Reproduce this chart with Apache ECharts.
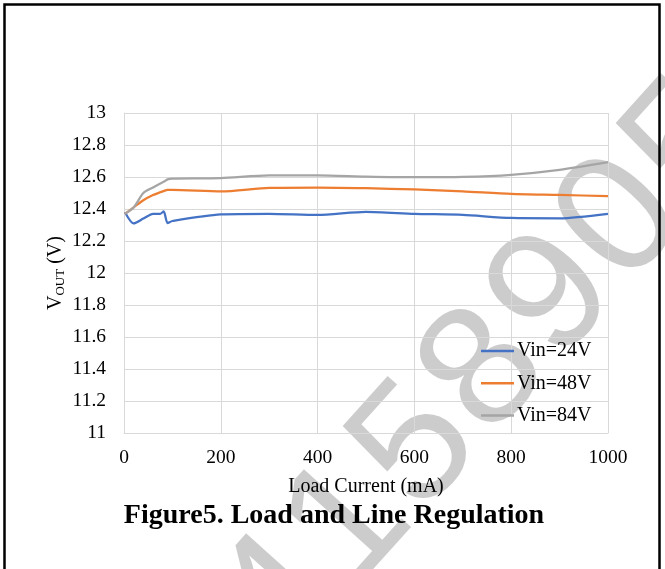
<!DOCTYPE html>
<html>
<head>
<meta charset="utf-8">
<script src="https://cdn.jsdelivr.net/npm/echarts@6/dist/echarts.min.js"></script>
<style>
  html, body { margin: 0; padding: 0; background: #fff; }
  #main { width: 665px; height: 569px; }
</style>
</head>
<body>
<div id="main"></div>
<script>
// load current (mA) and output voltage (V)
var loadCurrent = [2, 20, 40, 60, 75, 82, 90, 100, 200, 300, 400, 500, 600, 700, 800, 900, 1000];
var vin24 = [12.38, 12.31, 12.34, 12.37, 12.37, 12.385, 12.312, 12.325, 12.366, 12.37, 12.363, 12.382, 12.37, 12.363, 12.344, 12.342, 12.37];
var vin48 = [12.37, 12.41, 12.455, 12.487, 12.505, 12.512, 12.52, 12.52, 12.51, 12.532, 12.534, 12.53, 12.522, 12.51, 12.495, 12.488, 12.48];
var vin84 = [12.37, 12.41, 12.50, 12.535, 12.56, 12.57, 12.585, 12.59, 12.593, 12.61, 12.61, 12.603, 12.599, 12.601, 12.614, 12.645, 12.693];
var seriesNames = ['Vin=24V', 'Vin=48V', 'Vin=84V'];
var xTicks = [0, 200, 400, 600, 800, 1000];
var watermark = '4158905';

function pairs(ys) {
    return loadCurrent.map(function (x, i) {
        return [x, ys[i]];
    });
}

var chartDom = document.getElementById('main');
var myChart = echarts.init(chartDom, null, { renderer: 'canvas' });
var option;

var serif = "'Liberation Serif', 'Times New Roman', serif";

// watermark digits, spaced along a rotated baseline
var wmSize = 172;
var wmStep = 102;
var wmDigits = watermark.split('').map(function (ch, i) {
    return {
        type: 'text',
        x: i * wmStep + wmSize * 0.278,
        y: -wmSize * 0.35,
        silent: true,
        style: {
            text: ch,
            fontFamily: "'Liberation Sans', Arial, sans-serif",
            fontSize: wmSize,
            fill: 'rgba(0,0,0,0.2)',
            align: 'center',
            verticalAlign: 'middle'
        }
    };
});

option = {
    backgroundColor: '#fff',
    animation: false,
    color: ['#4472C4', '#ED7D31', '#A5A5A5'],
    grid: {
        left: 124,
        right: 57,
        top: 113,
        bottom: 136
    },
    legend: {
        orient: 'vertical',
        left: 476,
        top: 336,
        icon: 'rect',
        itemWidth: 33,
        itemHeight: 2.5,
        itemGap: 12.3,
        data: seriesNames,
        textStyle: {
            fontFamily: serif,
            fontSize: 20,
            lineHeight: 20,
            color: '#000',
            padding: [0, 0, 0, -2]
        }
    },
    xAxis: {
        type: 'value',
        min: 0,
        max: 1000,
        interval: 200,
        name: 'Load Current (mA)',
        nameLocation: 'middle',
        nameGap: 44,
        nameMoveOverlap: false,
        nameTextStyle: {
            fontFamily: serif,
            fontSize: 20,
            color: '#000'
        },
        axisLine: { show: true, lineStyle: { color: '#d9d9d9', width: 1 } },
        axisTick: { show: false },
        axisLabel: {
            fontFamily: serif,
            fontSize: 19.5,
            color: '#000',
            margin: 15,
            formatter: function (v) {
                return xTicks.indexOf(v) >= 0 ? String(v) : '';
            }
        },
        splitLine: { show: true, lineStyle: { color: '#d9d9d9', width: 1 } }
    },
    yAxis: {
        type: 'value',
        min: 11,
        max: 13,
        interval: 0.2,
        name: '{a|V}{b|OUT}{a| (V)}',
        nameLocation: 'middle',
        nameGap: 57,
        nameMoveOverlap: false,
        nameTextStyle: {
            color: '#000',
            rich: {
                a: { fontFamily: serif, fontSize: 20, lineHeight: 22, color: '#000' },
                b: { fontFamily: serif, fontSize: 13, lineHeight: 13, color: '#000', verticalAlign: 'bottom' }
            }
        },
        axisLine: { show: true, lineStyle: { color: '#d9d9d9', width: 1 } },
        axisTick: { show: false },
        axisLabel: {
            fontFamily: serif,
            fontSize: 19.5,
            color: '#000',
            margin: 18,
            padding: [3, 0, 0, 0]
        },
        splitLine: { show: true, lineStyle: { color: '#d9d9d9', width: 1 } }
    },
    graphic: [
        {
            type: 'text',
            x: 334,
            y: 516,
            style: {
                text: 'Figure5. Load and Line Regulation',
                fontFamily: serif,
                fontWeight: 'bold',
                fontSize: 28,
                fill: '#000',
                align: 'center',
                verticalAlign: 'middle'
            }
        },
        {
            type: 'rect',
            shape: { x: 4.5, y: 4.5, width: 655, height: 600 },
            silent: true,
            style: { fill: 'none', stroke: '#000', lineWidth: 2.5 }
        },
        {
            type: 'group',
            x: 294,
            y: 676,
            z: 100,
            rotation: 48 * Math.PI / 180,
            silent: true,
            children: wmDigits
        }
    ],
    series: [
        {
            name: seriesNames[0],
            type: 'line',
            symbol: 'none',
            smooth: 0.25,
            lineStyle: { width: 2.25 },
            data: pairs(vin24)
        },
        {
            name: seriesNames[1],
            type: 'line',
            symbol: 'none',
            smooth: 0.25,
            lineStyle: { width: 2.25 },
            data: pairs(vin48)
        },
        {
            name: seriesNames[2],
            type: 'line',
            symbol: 'none',
            smooth: 0.25,
            lineStyle: { width: 2.25 },
            data: pairs(vin84)
        }
    ]
};

option && myChart.setOption(option);
</script>
</body>
</html>
